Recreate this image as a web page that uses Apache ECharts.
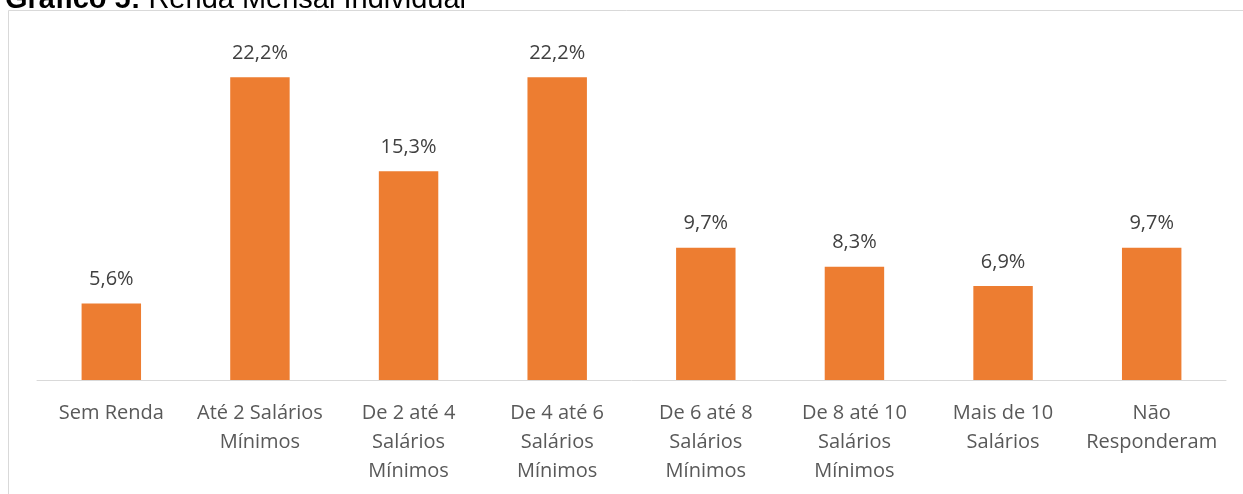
<!DOCTYPE html>
<html>
<head>
<meta charset="utf-8">
<script src="https://cdn.jsdelivr.net/npm/echarts@6/dist/echarts.min.js"></script>
<style>
  html, body { margin: 0; padding: 0; background: #fff; }
  #chart { width: 1243px; height: 494px; }
</style>
</head>
<body>
<div id="chart"></div>
<script>
const categories = [
  'Sem Renda',
  'Até 2 Salários\nMínimos',
  'De 2 até 4\nSalários\nMínimos',
  'De 4 até 6\nSalários\nMínimos',
  'De 6 até 8\nSalários\nMínimos',
  'De 8 até 10\nSalários\nMínimos',
  'Mais de 10\nSalários',
  'Não\nResponderam'
];
const values = [5.6, 22.2, 15.3, 22.2, 9.7, 8.3, 6.9, 9.7];

const chart = echarts.init(document.getElementById('chart'));
chart.setOption({
  backgroundColor: '#ffffff',
  animation: false,
  title: {
    text: '{b|Gráfico 5:} Renda Mensal Individual',
    left: 0,
    top: -20,
    textStyle: {
      fontFamily: 'Liberation Sans',
      fontSize: 29,
      fontWeight: 'normal',
      color: '#000',
      rich: {
        b: { fontFamily: 'Liberation Sans', fontSize: 29, fontWeight: 'bold', color: '#000' }
      }
    }
  },
  graphic: [{
    type: 'rect',
    shape: { x: 8.5, y: 10.5, width: 1300, height: 600 },
    style: { fill: 'none', stroke: '#d9d9d9', lineWidth: 1 },
    silent: true
  }],
  grid: { left: 37, right: 17, top: 39, bottom: 114 },
  xAxis: {
    type: 'category',
    data: categories,
    axisLine: { lineStyle: { color: '#d9d9d9', width: 1 } },
    axisTick: { show: false },
    axisLabel: {
      interval: 0,
      margin: 19,
      color: '#595959',
      fontFamily: 'Open Sans',
      fontSize: 20,
      lineHeight: 29
    }
  },
  yAxis: {
    type: 'value',
    min: 0,
    max: 25,
    show: false,
    splitLine: { show: false }
  },
  series: [{
    type: 'bar',
    data: values,
    barWidth: '40%',
    itemStyle: { color: '#ed7d31' },
    label: {
      show: true,
      position: 'top',
      distance: 14,
      color: '#404040',
      fontFamily: 'Open Sans',
      fontSize: 20,
      formatter: p => p.value.toFixed(1).replace('.', ',') + '%'
    }
  }]
});
</script>
</body>
</html>
